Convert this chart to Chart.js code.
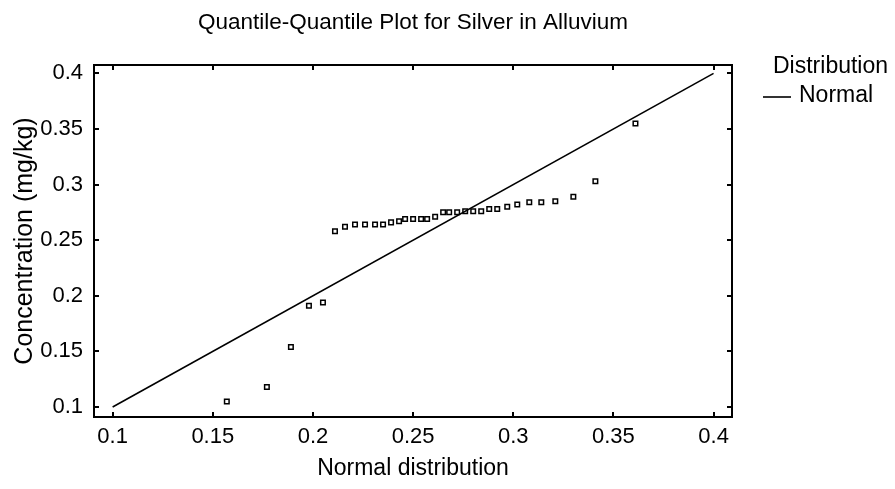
<!DOCTYPE html>
<html><head><meta charset="utf-8">
<script src="https://cdn.jsdelivr.net/npm/chart.js@4.4.0/dist/chart.umd.min.js"></script>
<style>html,body{margin:0;padding:0;background:#fff;}</style>
</head><body>
<canvas id="c" width="895" height="489"></canvas>
<script>
const chartTitle = 'Quantile-Quantile Plot for Silver in Alluvium';
const xAxisTitle = 'Normal distribution';
const yAxisTitle = 'Concentration (mg/kg)';
const legendTitle = 'Distribution';
const lineLabel = 'Normal';

const normalQuantiles = [0.157, 0.177, 0.189, 0.198, 0.205, 0.211, 0.216, 0.221, 0.226, 0.231, 0.235, 0.239, 0.243, 0.246, 0.250, 0.254, 0.257, 0.261, 0.265, 0.268, 0.272, 0.276, 0.280, 0.284, 0.288, 0.292, 0.297, 0.302, 0.308, 0.314, 0.321, 0.330, 0.341, 0.361];
const concentrations = [0.105, 0.118, 0.154, 0.191, 0.194, 0.258, 0.262, 0.264, 0.264, 0.264, 0.264, 0.266, 0.267, 0.269, 0.269, 0.269, 0.269, 0.271, 0.275, 0.275, 0.275, 0.276, 0.276, 0.276, 0.278, 0.278, 0.280, 0.282, 0.284, 0.284, 0.285, 0.289, 0.303, 0.355];
const refLineX = [0.1, 0.4];
const refLineY = [0.1, 0.4];
const xTicks = [0.1, 0.15, 0.2, 0.25, 0.3, 0.35, 0.4];
const xTickLabels = ['0.1', '0.15', '0.2', '0.25', '0.3', '0.35', '0.4'];
const yTicks = [0.1, 0.15, 0.2, 0.25, 0.3, 0.35, 0.4];
const yTickLabels = ['0.1', '0.15', '0.2', '0.25', '0.3', '0.35', '0.4'];

const FAMILY = '"Liberation Sans", Arial, sans-serif';
const FS = 22;

const framePlugin = {
  id: 'frame',
  afterDraw(chart) {
    const {ctx, chartArea: a, scales: {x, y}} = chart;
    ctx.save();
    ctx.strokeStyle = '#000';
    ctx.lineWidth = 2;
    ctx.strokeRect(a.left, a.top, a.right - a.left, a.bottom - a.top);
    const L = 5;
    ctx.beginPath();
    x.ticks.forEach(t => {
      const px = Math.round(x.getPixelForValue(t.value));
      ctx.moveTo(px, a.bottom); ctx.lineTo(px, a.bottom - L);
      ctx.moveTo(px, a.top); ctx.lineTo(px, a.top + L);
    });
    y.ticks.forEach(t => {
      const py = Math.round(y.getPixelForValue(t.value));
      ctx.moveTo(a.left, py); ctx.lineTo(a.left + L, py);
      ctx.moveTo(a.right, py); ctx.lineTo(a.right - L, py);
    });
    ctx.stroke();
    // legend
    ctx.fillStyle = '#000';
    ctx.font = '23px ' + FAMILY;
    ctx.textBaseline = 'middle';
    ctx.textAlign = 'left';
    ctx.fillText(legendTitle, 773, 67);
    ctx.lineWidth = 1.6;
    ctx.beginPath();
    ctx.moveTo(763, 97); ctx.lineTo(791, 97);
    ctx.stroke();
    ctx.fillText(lineLabel, 799, 96);
    ctx.restore();
  }
};

new Chart(document.getElementById('c'), {
  type: 'scatter',
  data: {
    datasets: [
      {
        label: lineLabel,
        type: 'line',
        data: refLineX.map((v, i) => ({x: v, y: refLineY[i]})),
        borderColor: '#000',
        borderWidth: 1.6,
        pointRadius: 0,
        fill: false,
        tension: 0
      },
      {
        label: 'Observed',
        data: normalQuantiles.map((v, i) => ({x: v, y: concentrations[i]})),
        pointStyle: 'rect',
        pointRadius: 3.2,
        pointBorderWidth: 1.5,
        pointBorderColor: '#000',
        pointBackgroundColor: 'rgba(255,255,255,0)',
        showLine: false
      }
    ]
  },
  options: {
    responsive: false,
    animation: false,
    layout: {padding: {left: 0, right: 163, top: 0, bottom: 0}},
    plugins: {
      legend: {display: false},
      tooltip: {enabled: false},
      title: {
        display: true, text: chartTitle, color: '#000', fullSize: false,
        font: {family: FAMILY, size: 22.5, weight: 'normal', lineHeight: 1.2},
        padding: {top: 9, bottom: 29}
      }
    },
    scales: {
      x: {
        type: 'linear', position: 'bottom', min: 0.0907, max: 0.4092,
        grid: {display: false, drawTicks: false},
        border: {display: false},
        afterBuildTicks(s) { s.ticks = xTicks.map(v => ({value: v})); },
        afterFit(s) { s.height = 72; },
        ticks: {
          color: '#000', padding: 7, maxRotation: 0, autoSkip: false,
          font: {family: FAMILY, size: FS, lineHeight: 1.2},
          callback: v => xTickLabels[xTicks.indexOf(v)]
        },
        title: {
          display: true, text: xAxisTitle, color: '#000',
          font: {family: FAMILY, size: 23, lineHeight: 1.2},
          padding: {top: 0, bottom: 7}
        }
      },
      y: {
        type: 'linear', position: 'left', min: 0.091, max: 0.4075,
        grid: {display: false, drawTicks: false},
        border: {display: false},
        afterBuildTicks(s) { s.ticks = yTicks.map(v => ({value: v})); },
        afterFit(s) { s.width = 94; },
        ticks: {
          color: '#000', padding: 11, autoSkip: false,
          font: {family: FAMILY, size: FS, lineHeight: 1.2},
          callback: v => yTickLabels[yTicks.indexOf(v)]
        },
        title: {
          display: true, text: yAxisTitle, color: '#000',
          font: {family: FAMILY, size: 25, lineHeight: 1.2},
          padding: {top: 10, bottom: 0}
        }
      }
    }
  },
  plugins: [framePlugin]
});
</script>
</body></html>
